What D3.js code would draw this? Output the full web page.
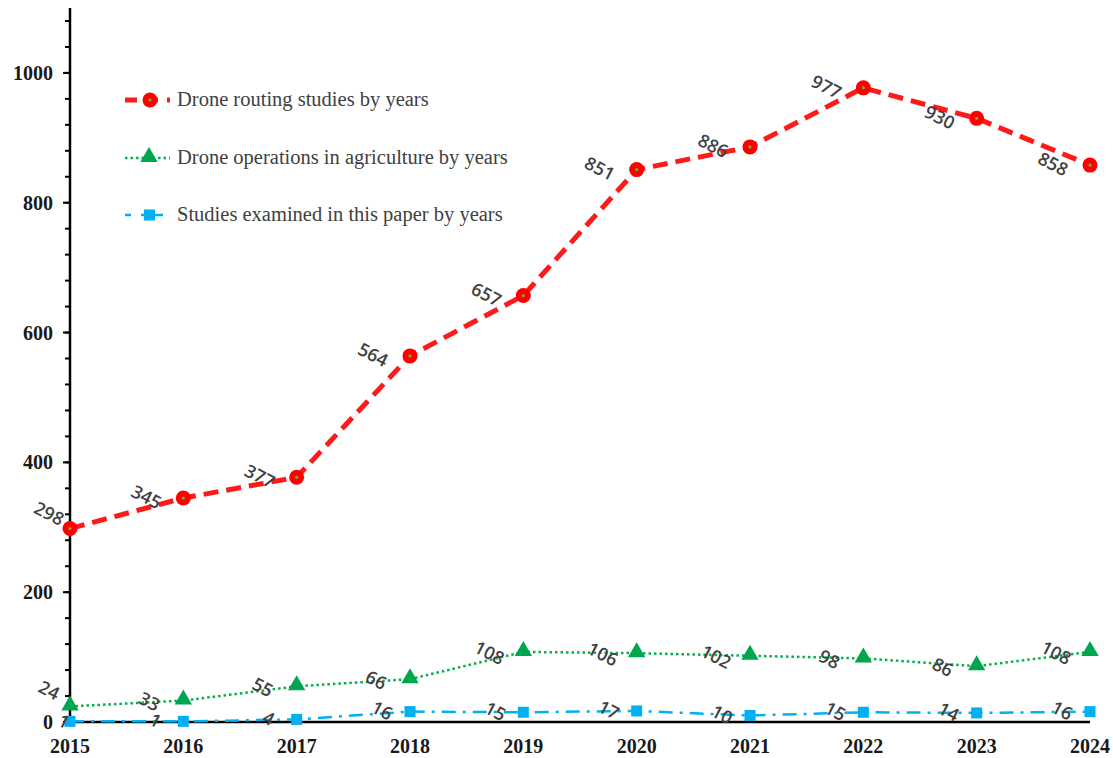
<!DOCTYPE html>
<html lang="en">
<head>
<meta charset="UTF-8">
<title>Drone studies by years</title>
<style>
  body { margin: 0; background: #fff; }
  .tick-lbl { font-family: "Liberation Serif", "Times New Roman", serif; font-weight: bold; font-size: 20px; fill: #1a1a1a; }
  .val { font-family: "Open Sans", "Noto Sans", sans-serif; font-size: 18px; font-weight: 600; fill: #404040; }
  .leg { font-family: "Liberation Serif", "Times New Roman", serif; font-size: 20.5px; fill: #404040; }
</style>
</head>
<body>
<script src="https://d3js.org/d3.v7.min.js"></script>
<script>
var years = [2015, 2016, 2017, 2018, 2019, 2020, 2021, 2022, 2023, 2024];
var routing = [298, 345, 377, 564, 657, 851, 886, 977, 930, 858];
var agriculture = [24, 33, 55, 66, 108, 106, 102, 98, 86, 108];
var examined = [1, 1, 4, 16, 15, 17, 10, 15, 14, 16];
var yTicks = [0, 200, 400, 600, 800, 1000];
var legendLabels = ['Drone routing studies by years',
                    'Drone operations in agriculture by years',
                    'Studies examined in this paper by years'];

var width = 1113, height = 758;
var svg = d3.select('body').append('svg')
    .attr('width', width).attr('height', height);

var x = d3.scalePoint().domain(years).range([70, 1090]);
var y = d3.scaleLinear().domain([0, 1100]).range([722, 8]);

// y axis
svg.append('line')
   .attr('x1', 70).attr('x2', 70)
   .attr('y1', y(1100)).attr('y2', y(0))
   .attr('stroke', '#000').attr('stroke-width', 2.5);

svg.selectAll('line.minor')
   .data(d3.range(0, 1101, 40))
   .enter().append('line')
   .attr('class', 'minor')
   .attr('x1', 70).attr('x2', 65)
   .attr('y1', function(d) { return y(d); })
   .attr('y2', function(d) { return y(d); })
   .attr('stroke', '#000').attr('stroke-width', 2);

svg.selectAll('line.major')
   .data(yTicks)
   .enter().append('line')
   .attr('class', 'major')
   .attr('x1', 70).attr('x2', 63)
   .attr('y1', function(d) { return y(d); })
   .attr('y2', function(d) { return y(d); })
   .attr('stroke', '#000').attr('stroke-width', 2);

svg.selectAll('text.ylbl')
   .data(yTicks)
   .enter().append('text')
   .attr('class', 'tick-lbl ylbl')
   .attr('x', 53)
   .attr('y', function(d) { return y(d) + 7; })
   .attr('text-anchor', 'end')
   .text(function(d) { return d; });

// x axis
svg.append('line')
   .attr('x1', 70).attr('x2', 1090)
   .attr('y1', y(0)).attr('y2', y(0))
   .attr('stroke', '#000').attr('stroke-width', 2.5);

svg.selectAll('text.xlbl')
   .data(years)
   .enter().append('text')
   .attr('class', 'tick-lbl xlbl')
   .attr('x', function(d) { return x(d); })
   .attr('y', 753)
   .attr('text-anchor', 'middle')
   .text(function(d) { return d; });

var line = d3.line()
    .x(function(d, i) { return x(years[i]); })
    .y(function(d) { return y(d); });

// examined (blue dash-dot)
svg.append('path')
   .attr('d', line(examined))
   .attr('fill', 'none')
   .attr('stroke', '#00b0f0').attr('stroke-width', 2.5)
   .attr('stroke-dasharray', '14,7,3,7');
svg.selectAll('rect.ex')
   .data(examined)
   .enter().append('rect')
   .attr('class', 'ex')
   .attr('x', function(d, i) { return x(years[i]) - 5.5; })
   .attr('y', function(d) { return y(d) - 5.5; })
   .attr('width', 11).attr('height', 11)
   .attr('fill', '#00b0f0');

// agriculture (green dotted)
svg.append('path')
   .attr('d', line(agriculture))
   .attr('fill', 'none')
   .attr('stroke', '#00b050').attr('stroke-width', 2.5)
   .attr('stroke-dasharray', '2.5,3');
svg.selectAll('path.tri')
   .data(agriculture)
   .enter().append('path')
   .attr('class', 'tri')
   .attr('d', d3.symbol().type(d3.symbolTriangle).size(130))
   .attr('transform', function(d, i) { return 'translate(' + x(years[i]) + ',' + (y(d) - 1) + ')'; })
   .attr('fill', '#00a550');

// routing (red dashed)
svg.append('path')
   .attr('d', line(routing))
   .attr('fill', 'none')
   .attr('stroke', '#ff1a1a').attr('stroke-width', 5)
   .attr('stroke-dasharray', '15,8');
svg.selectAll('circle.rt')
   .data(routing)
   .enter().append('circle')
   .attr('class', 'rt')
   .attr('cx', function(d, i) { return x(years[i]); })
   .attr('cy', function(d) { return y(d); })
   .attr('r', 7.5)
   .attr('fill', '#ff0000');
svg.selectAll('circle.rtc')
   .data(routing)
   .enter().append('circle')
   .attr('class', 'rtc')
   .attr('cx', function(d, i) { return x(years[i]); })
   .attr('cy', function(d) { return y(d); })
   .attr('r', 1.6)
   .attr('fill', '#70ad47');

// value labels, tilted, to the left of each point (first one sits above-left)
function labels(vals, dx, dy, fx, fy, cls) {
  svg.selectAll('text.' + cls)
     .data(vals)
     .enter().append('text')
     .attr('class', 'val ' + cls)
     .attr('text-anchor', 'middle')
     .attr('dy', '0.35em')
     .attr('transform', function(d, i) {
        var ox = i === 0 ? fx : dx, oy = i === 0 ? fy : dy;
        return 'translate(' + (x(years[i]) + ox) + ',' + (y(d) + oy) + ') rotate(27)';
     })
     .text(function(d) { return d; });
}
labels(routing, -37, -1, -21, -15, 'lr');
labels(agriculture, -34, 1, -21, -16, 'la');
labels(examined, -28, -1, -6, 0, 'le');

// legend
var legY = [100, 158, 215];
svg.append('line')
   .attr('x1', 125).attr('x2', 170).attr('y1', legY[0]).attr('y2', legY[0])
   .attr('stroke', '#ff1a1a').attr('stroke-width', 5).attr('stroke-dasharray', '12,9');
svg.append('circle').attr('cx', 150).attr('cy', legY[0]).attr('r', 7.5).attr('fill', '#ff0000');
svg.append('circle').attr('cx', 150).attr('cy', legY[0]).attr('r', 1.6).attr('fill', '#70ad47');

svg.append('line')
   .attr('x1', 125).attr('x2', 170).attr('y1', legY[1]).attr('y2', legY[1])
   .attr('stroke', '#00b050').attr('stroke-width', 2.5).attr('stroke-dasharray', '2.5,3');
svg.append('path')
   .attr('d', d3.symbol().type(d3.symbolTriangle).size(130))
   .attr('transform', 'translate(149,' + (legY[1] - 1) + ')')
   .attr('fill', '#00a550');

svg.append('line')
   .attr('x1', 125).attr('x2', 163).attr('y1', legY[2]).attr('y2', legY[2])
   .attr('stroke', '#00b0f0').attr('stroke-width', 2.5).attr('stroke-dasharray', '6,10,22');
svg.append('rect').attr('x', 144).attr('y', legY[2] - 5.5).attr('width', 11).attr('height', 11).attr('fill', '#00b0f0');

svg.selectAll('text.leg')
   .data(legendLabels)
   .enter().append('text')
   .attr('class', 'leg')
   .attr('x', 177)
   .attr('y', function(d, i) { return legY[i] + 6; })
   .text(function(d) { return d; });
</script>
</body>
</html>
